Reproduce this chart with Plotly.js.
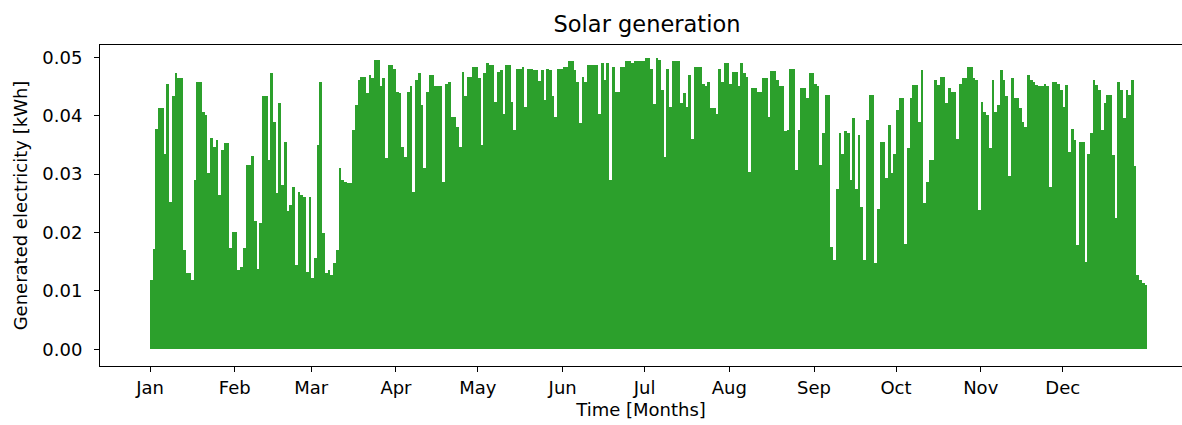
<!DOCTYPE html>
<html>
<head>
<meta charset="utf-8">
<script src="https://cdn.plot.ly/plotly-3.0.1.min.js"></script>
<style>html,body{margin:0;padding:0;background:#fff;}#chart{width:1182px;height:425px;}</style>
</head>
<body>
<div id="chart"></div>
<script>
// Daily peak generation [kWh] (one value per day)
const jan = [0.0119,0.0171,0.0378,0.0413,0.0413,0.0335,0.0455,0.0253,0.0433,0.0473,0.0464,0.0464,0.017,0.0131,0.0131,0.0119,0.029,0.0458,0.0458,0.0407,0.0401,0.0301,0.0361,0.0347,0.0359,0.0264,0.0341,0.0353,0.0353,0.0173,0.0201];
const feb = [0.0201,0.0136,0.0141,0.0173,0.0316,0.0316,0.0331,0.0219,0.0138,0.0216,0.0434,0.0433,0.0324,0.0473,0.039,0.0267,0.0421,0.0281,0.0355,0.0236,0.0247,0.0278,0.0144,0.027,0.0264,0.0261,0.0133,0.0261];
const mar = [0.0122,0.0156,0.035,0.0458,0.0199,0.013,0.0136,0.0127,0.0147,0.017,0.031,0.029,0.0287,0.0284,0.0284,0.0375,0.0418,0.0461,0.0467,0.0467,0.0438,0.047,0.0464,0.0495,0.0495,0.045,0.0464,0.0327,0.0487,0.0487,0.048];
const apr = [0.044,0.0438,0.0347,0.033,0.044,0.045,0.027,0.0461,0.0473,0.0418,0.031,0.044,0.047,0.047,0.045,0.045,0.045,0.0287,0.0455,0.0458,0.0398,0.0398,0.038,0.0347,0.0475,0.0433,0.0467,0.0467,0.0484,0.0484];
const may = [0.0464,0.035,0.0473,0.049,0.0487,0.0487,0.0424,0.0475,0.0478,0.0403,0.0487,0.0487,0.0424,0.0375,0.048,0.048,0.0484,0.0415,0.048,0.048,0.0478,0.0478,0.046,0.0478,0.0427,0.048,0.0478,0.0433,0.0398,0.048,0.048];
const jun = [0.0484,0.0484,0.0493,0.0493,0.0478,0.0458,0.0387,0.0467,0.0458,0.0487,0.0487,0.0487,0.0487,0.0403,0.049,0.0461,0.049,0.029,0.0484,0.044,0.044,0.0484,0.0484,0.0493,0.0493,0.049,0.0493,0.0493,0.0493,0.0493];
const jul = [0.0498,0.0498,0.048,0.042,0.0498,0.0495,0.0444,0.033,0.048,0.0415,0.0493,0.0493,0.0493,0.0421,0.0438,0.0415,0.047,0.036,0.0484,0.0484,0.0484,0.0455,0.045,0.0458,0.0413,0.0413,0.0403,0.048,0.0458,0.049,0.049];
const aug = [0.0455,0.0475,0.0475,0.045,0.049,0.0473,0.0467,0.0304,0.0447,0.0447,0.044,0.044,0.0464,0.0464,0.0398,0.0476,0.0476,0.0461,0.045,0.045,0.0373,0.0375,0.048,0.048,0.0307,0.0375,0.0447,0.0447,0.043,0.0473,0.0473];
const sep = [0.0455,0.045,0.0316,0.037,0.0435,0.0435,0.0176,0.0153,0.0275,0.037,0.0335,0.0373,0.037,0.029,0.0396,0.0275,0.0367,0.0244,0.0153,0.0393,0.0435,0.0435,0.0147,0.0241,0.0355,0.0355,0.0293,0.0384,0.0301,0.0335];
const oct = [0.041,0.043,0.043,0.0181,0.0344,0.043,0.0453,0.0453,0.039,0.0478,0.025,0.0287,0.0324,0.0324,0.0461,0.0453,0.0467,0.0467,0.0421,0.0447,0.0441,0.0441,0.036,0.0455,0.0464,0.0464,0.0484,0.0484,0.0464,0.0461,0.0238];
const nov = [0.0424,0.0407,0.0401,0.0344,0.0461,0.0407,0.0418,0.0478,0.0461,0.0433,0.0296,0.0464,0.043,0.043,0.0413,0.039,0.0381,0.047,0.0461,0.0458,0.0453,0.045,0.045,0.0455,0.045,0.0278,0.0458,0.0458,0.0455,0.0444];
const dec = [0.0415,0.0453,0.0338,0.0378,0.0358,0.0178,0.0355,0.0355,0.015,0.0335,0.037,0.0461,0.0453,0.0444,0.0375,0.0421,0.0435,0.0435,0.0333,0.0224,0.0458,0.0444,0.0396,0.0444,0.0435,0.0461,0.0313,0.0127,0.0119,0.0113,0.011];

const monthLabels = ['Jan','Feb','Mar','Apr','May','Jun','Jul','Aug','Sep','Oct','Nov','Dec'];
const months = [jan,feb,mar,apr,may,jun,jul,aug,sep,oct,nov,dec];
const year = 2019;

const DAY = 86400000;
const yStart = Date.UTC(year,0,1);
const xs = [], ys = [];
months.forEach((arr, m) => {
  arr.forEach((v, i) => {
    xs.push(Date.UTC(year, m, i + 1) + DAY / 2);
    ys.push(v);
  });
});
const tickvals = monthLabels.map((_, m) => Date.UTC(year, m, 1));

const font = {family: 'DejaVu Sans, sans-serif', color: '#000'};

const trace = {
  type: 'bar',
  x: xs,
  y: ys,
  width: DAY,
  marker: {color: '#2ca02c', line: {width: 0}},
  hoverinfo: 'x+y'
};

const layout = {
  width: 1182,
  height: 425,
  margin: {l: 100, r: 0, t: 45, b: 59},
  paper_bgcolor: '#fff',
  plot_bgcolor: '#fff',
  bargap: 0,
  showlegend: false,
  font: Object.assign({size: 18}, font),
  title: {
    text: 'Solar generation',
    font: Object.assign({size: 22.5}, font),
    xref: 'container', x: 647 / 1182, xanchor: 'center',
    yref: 'container', y: 1 - 24 / 425, yanchor: 'middle'
  },
  xaxis: {
    type: 'date',
    range: [yStart - 18.3 * DAY, yStart + 377.66 * DAY],
    tickmode: 'array',
    tickvals: tickvals,
    ticktext: monthLabels,
    ticks: 'outside', ticklen: 5, tickwidth: 1, tickcolor: '#000',
    showline: true, linecolor: '#000', linewidth: 1, mirror: true,
    showgrid: false, zeroline: false,
    tickfont: Object.assign({size: 18}, font),
    title: {text: 'Time [Months]', font: Object.assign({size: 18}, font), standoff: 6},
    automargin: false
  },
  yaxis: {
    range: [-0.00286, 0.0521],
    tickvals: [0, 0.01, 0.02, 0.03, 0.04, 0.05],
    ticktext: ['0.00', '0.01', '0.02', '0.03', '0.04', '0.05'],
    ticks: 'outside', ticklen: 5, tickwidth: 1, tickcolor: '#000',
    ticklabelstandoff: 8,
    showline: true, linecolor: '#000', linewidth: 1,
    showgrid: false, zeroline: false,
    tickfont: Object.assign({size: 18}, font),
    title: {text: 'Generated electricity [kWh]', font: Object.assign({size: 18}, font), standoff: 10},
    automargin: false
  }
};

Plotly.newPlot('chart', [trace], layout, {displayModeBar: false, staticPlot: true});
</script>
</body>
</html>
